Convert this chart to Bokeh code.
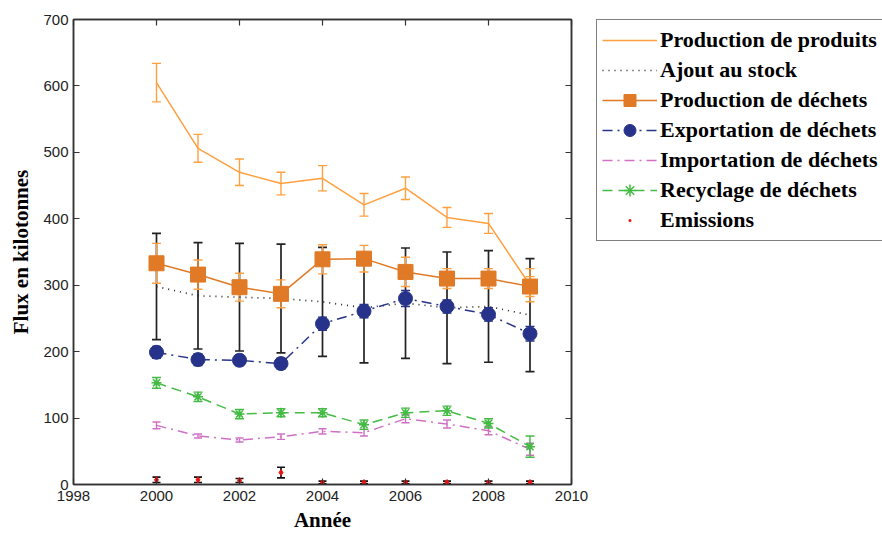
from bokeh.plotting import figure
from bokeh.layouts import row
from bokeh.models import (ColumnDataSource, Whisker, TeeHead, Legend, LegendItem,
                          LinearAxis, FixedTicker, Range1d)
from bokeh.embed import file_html
from bokeh.resources import INLINE

years = [2000, 2001, 2002, 2003, 2004, 2005, 2006, 2007, 2008, 2009]

produits = [605, 506, 470, 453, 461, 421, 446, 402, 393, 300]
produits_err = [29, 21, 20, 17, 19, 17, 17, 15, 15, 25]

stock = [298, 284, 282, 280, 275, 266, 273, 266, 268, 255]
stock_err = [80, 80, 81, 82, 82, 83, 83, 84, 84, 85]

dechets = [333, 316, 297, 287, 339, 340, 320, 310, 310, 298]
dechets_err = [30, 22, 21, 21, 22, 20, 22, 15, 15, 15]

export = [199, 188, 187, 182, 242, 261, 280, 268, 256, 227]
export_err = [9, 9, 8, 8, 10, 10, 12, 10, 10, 11]

importation = [89, 73, 67, 72, 80, 78, 99, 91, 81, 53]
importation_err = [5, 3, 3, 4, 4, 5, 6, 6, 6, 9]

recyclage = [153, 132, 106, 108, 108, 90, 108, 111, 92, 57]
recyclage_err = [8, 7, 7, 6, 6, 7, 7, 7, 7, 16]

emissions = [7, 7, 6, 18, 3, 3, 3, 3, 3, 3]
emissions_err = [4, 4, 3, 8, 2, 2, 2, 2, 2, 2]

labels = ["Production de produits", "Ajout au stock", "Production de déchets",
          "Exportation de déchets", "Importation de déchets",
          "Recyclage de déchets", "Emissions"]

x_ticks = [1998, 2000, 2002, 2004, 2006, 2008, 2010]
y_ticks = [0, 100, 200, 300, 400, 500, 600, 700]

C_PROD = "#FFA040"
C_STOCK = "#222222"
C_DECH = "#E07A26"
C_EXP = "#27338A"
C_IMP = "#D070C4"
C_REC = "#44BB44"
C_EMI = "#EE1111"

p = figure(width=596, height=537, output_backend="svg", toolbar_location=None,
           x_range=Range1d(1998, 2010), y_range=Range1d(0, 700),
           min_border_left=73, min_border_right=25, min_border_top=19,
           min_border_bottom=53)
p.xgrid.visible = False
p.ygrid.visible = False
p.outline_line_color = "#333333"
p.outline_line_width = 1.5


def errbars(vals, errs, color, size=8, width=1.4):
    src = ColumnDataSource(dict(x=years,
                                upper=[v + e for v, e in zip(vals, errs)],
                                lower=[v - e for v, e in zip(vals, errs)]))
    w = Whisker(source=src, base="x", upper="upper", lower="lower",
                line_color=color, line_width=width,
                upper_head=TeeHead(size=size, line_color=color, line_width=width),
                lower_head=TeeHead(size=size, line_color=color, line_width=width))
    p.add_layout(w)


def draw_series(fig, small=False):
    r = {}
    r["prod"] = [fig.line(years, produits, line_color=C_PROD, line_width=1.5)]
    r["stock"] = [fig.line(years, stock, line_color=C_STOCK, line_width=1.7,
                           line_dash="1 5")]
    r["dech"] = [fig.line(years, dechets, line_color=C_DECH, line_width=1.5),
                 fig.scatter(years, dechets, marker="square", size=15,
                             fill_color=C_DECH, line_color=C_DECH)]
    r["exp"] = [fig.line(years, export, line_color=C_EXP, line_width=1.5,
                         line_dash="10 5 2 5"),
                fig.scatter(years, export, marker="circle", size=14,
                            fill_color=C_EXP, line_color=C_EXP)]
    r["imp"] = [fig.line(years, importation, line_color=C_IMP, line_width=1.5,
                         line_dash="10 5 2 5")]
    r["rec"] = [fig.line(years, recyclage, line_color=C_REC, line_width=1.5,
                         line_dash="10 6"),
                fig.scatter(years, recyclage, marker="asterisk", size=10,
                            line_color=C_REC, line_width=1.5)]
    if not small:
        fig.scatter(years, recyclage, marker="circle", size=4,
                    fill_color=C_REC, line_color=C_REC)
    r["emi"] = [fig.scatter(years, emissions, marker="dot" if small else "diamond",
                            size=6, fill_color=C_EMI, line_color=C_EMI,
                            line_width=4 if small else 1)]
    return r


# error bars first
errbars(stock, stock_err, C_STOCK, size=9, width=1.7)
errbars(produits, produits_err, C_PROD, size=9)
errbars(dechets, dechets_err, C_PROD, size=9)
errbars(export, export_err, C_EXP, size=9)
errbars(importation, importation_err, C_IMP, size=8)
errbars(recyclage, recyclage_err, C_REC, size=9)
errbars(emissions, emissions_err, "#111111", size=8, width=1.7)

draw_series(p)

# axes
for ax in (p.xaxis[0], p.yaxis[0]):
    ax.major_tick_in = 6
    ax.major_tick_out = 0
    ax.minor_tick_line_color = None
    ax.axis_line_color = "#333333"
    ax.axis_line_width = 1.5
    ax.major_tick_line_color = "#333333"
    ax.major_tick_line_width = 1.2
    ax.major_label_text_font = "Liberation Sans"
    ax.major_label_text_font_size = "15px"
    ax.major_label_text_color = "#222222"
    ax.axis_label_text_font = "Liberation Serif"
    ax.axis_label_text_font_style = "bold"
    ax.axis_label_text_font_size = "21px"
    ax.axis_label_text_color = "#000000"

p.xaxis[0].ticker = FixedTicker(ticks=x_ticks)
p.yaxis[0].ticker = FixedTicker(ticks=y_ticks)
p.xaxis[0].axis_label = "Année"
p.yaxis[0].axis_label = "Flux en kilotonnes"
p.xaxis[0].major_label_standoff = 6
p.yaxis[0].major_label_standoff = 5
p.xaxis[0].axis_label_standoff = 4
p.yaxis[0].axis_label_standoff = 7

top = LinearAxis(ticker=FixedTicker(ticks=x_ticks),
                 major_label_overrides={t: "" for t in x_ticks},
                 major_label_standoff=0,
                 major_tick_in=6, major_tick_out=0, minor_tick_line_color=None,
                 axis_line_color="#333333", axis_line_width=1.5,
                 major_tick_line_color="#333333", major_tick_line_width=1.2)
right = LinearAxis(ticker=FixedTicker(ticks=y_ticks),
                   major_label_overrides={t: "" for t in y_ticks},
                   major_label_standoff=0,
                   major_tick_in=6, major_tick_out=0, minor_tick_line_color=None,
                   axis_line_color="#333333", axis_line_width=1.5,
                   major_tick_line_color="#333333", major_tick_line_width=1.2)
p.add_layout(top, "above")
p.add_layout(right, "right")

# legend panel: same series drawn in a figure whose ranges keep them out of view
q = figure(width=286, height=537, output_backend="svg", toolbar_location=None,
           x_range=Range1d(0, 1), y_range=Range1d(-1, 0),
           x_axis_type=None, y_axis_type=None,
           min_border_left=0, min_border_right=0, min_border_top=3,
           min_border_bottom=0)
q.xgrid.visible = False
q.ygrid.visible = False
q.outline_line_color = None
rq = draw_series(q, small=True)

legend = Legend(items=[
    LegendItem(label=labels[0], renderers=rq["prod"]),
    LegendItem(label=labels[1], renderers=rq["stock"]),
    LegendItem(label=labels[2], renderers=rq["dech"]),
    LegendItem(label=labels[3], renderers=rq["exp"]),
    LegendItem(label=labels[4], renderers=rq["imp"]),
    LegendItem(label=labels[5], renderers=rq["rec"]),
    LegendItem(label=labels[6], renderers=rq["emi"]),
], location="top_left")
legend.label_text_font = "Liberation Serif"
legend.label_text_font_style = "bold"
legend.label_text_font_size = "22px"
legend.label_text_color = "#000000"
legend.glyph_width = 55
legend.glyph_height = 30
legend.label_height = 30
legend.spacing = 0
legend.padding = 5
legend.margin = 0
legend.label_standoff = 3
legend.border_line_color = "#000000"
legend.border_line_width = 1.5
legend.background_fill_color = "white"
q.add_layout(legend, "center")

layout = row(p, q, spacing=0)
open("out.html", "w").write(file_html(layout, INLINE))
